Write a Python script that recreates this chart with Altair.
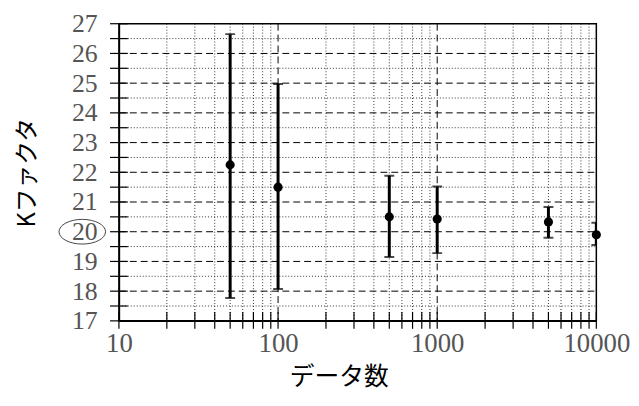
import altair as alt
import pandas as pd

# ---- data ----
n_data = [50, 100, 500, 1000, 5000, 10000]
k_mean = [22.25, 21.5, 20.5, 20.43, 20.33, 19.9]
k_upper = [26.65, 24.97, 21.88, 21.52, 20.83, 20.3]
k_lower = [17.77, 18.07, 19.15, 19.28, 19.8, 19.55]

y_major = list(range(17, 28))
y_minor = [v + 0.5 for v in range(17, 27)]
x_major_grid = [100, 1000]
x_minor_grid = [m * d for d in (10, 100, 1000) for m in range(2, 10)]
x_ticks = [10, 100, 1000, 10000] + x_minor_grid
x_labels = [10, 100, 1000, 10000]

W, H = 482, 300

df = pd.DataFrame({"n": n_data, "k": k_mean, "hi": k_upper, "lo": k_lower})
xscale = alt.Scale(type="log", domain=[10, 10000], nice=False)
yscale = alt.Scale(domain=[17, 27], nice=False, zero=False)

xaxis = alt.Axis(values=x_labels, format="d", title="データ数", grid=False, ticks=False,
                 labelFont="Liberation Serif", labelFontSize=27, labelColor="#555555",
                 labelPadding=10, labelFlush=False, labelOverlap=False,
                 domainColor="black", domainWidth=1.5,
                 titleFont="Noto Sans CJK JP", titleFontSize=25, titleFontWeight="normal",
                 titleColor="black", titlePadding=8, titleX=222)
yaxis = alt.Axis(values=y_major, title="Kファクタ", grid=False, ticks=False,
                 labelFont="Liberation Serif", labelFontSize=26, labelColor="#555555",
                 labelPadding=22, labelOverlap=False, labelBound=False,
                 domainColor="black", domainWidth=1.5,
                 titleFont="Noto Sans CJK JP", titleFontSize=24, titleFontWeight="normal",
                 titleColor="black", titlePadding=32)

base = alt.Chart(df)

# grid lines
ymaj = alt.Chart(pd.DataFrame({"y": y_major[1:-1]})).mark_rule(
    color="black", strokeWidth=1, strokeDash=[7, 4]).encode(
    y=alt.Y("y:Q", scale=yscale, axis=yaxis), x=alt.value(0), x2=alt.value(W))
ymin = alt.Chart(pd.DataFrame({"y": y_minor})).mark_rule(
    color="#333333", strokeWidth=1, strokeDash=[1, 2]).encode(
    y=alt.Y("y:Q", scale=yscale, axis=yaxis), x=alt.value(0), x2=alt.value(W))
xmaj = alt.Chart(pd.DataFrame({"x": x_major_grid})).mark_rule(
    color="black", strokeWidth=1, strokeDash=[7, 4]).encode(
    x=alt.X("x:Q", scale=xscale, axis=xaxis), y=alt.value(0), y2=alt.value(H))
xmin = alt.Chart(pd.DataFrame({"x": x_minor_grid})).mark_rule(
    color="#333333", strokeWidth=1, strokeDash=[1, 2]).encode(
    x=alt.X("x:Q", scale=xscale, axis=xaxis), y=alt.value(0), y2=alt.value(H))

# crossing ticks
ytk = alt.Chart(pd.DataFrame({"y": y_major + y_minor})).mark_rule(
    color="black", strokeWidth=1.2).encode(
    y=alt.Y("y:Q", scale=yscale, axis=yaxis), x=alt.value(-9), x2=alt.value(9))
xtk = alt.Chart(pd.DataFrame({"x": x_ticks})).mark_rule(
    color="black", strokeWidth=1.2).encode(
    x=alt.X("x:Q", scale=xscale, axis=xaxis), y=alt.value(H - 9), y2=alt.value(H + 8))

# error bars
bars = base.mark_rule(color="black", strokeWidth=3, clip=True).encode(
    x=alt.X("n:Q", scale=xscale, axis=xaxis), y=alt.Y("lo:Q", scale=yscale, axis=yaxis), y2="hi:Q")
cap_hi = base.mark_tick(color="black", thickness=2, size=10, orient="horizontal", clip=True).encode(
    x=alt.X("n:Q", scale=xscale, axis=xaxis), y=alt.Y("hi:Q", scale=yscale, axis=yaxis))
cap_lo = base.mark_tick(color="black", thickness=2, size=10, orient="horizontal", clip=True).encode(
    x=alt.X("n:Q", scale=xscale, axis=xaxis), y=alt.Y("lo:Q", scale=yscale, axis=yaxis))
pts = base.mark_circle(color="black", size=85, opacity=1).encode(
    x=alt.X("n:Q", scale=xscale, axis=xaxis), y=alt.Y("k:Q", scale=yscale, axis=yaxis))

# ellipse annotation around the "20" label
ell = alt.Chart(pd.DataFrame({"y": [20]})).mark_point(
    shape="M-1,0A1,0.53,0,1,0,1,0A1,0.53,0,1,0,-1,0Z", filled=False, fill=None,
    stroke="#444444", strokeWidth=1, size=2209, opacity=1).encode(
    y=alt.Y("y:Q", scale=yscale, axis=yaxis), x=alt.value(-37))

chart = alt.layer(ymin, xmin, ymaj, xmaj, ytk, xtk, bars, cap_hi, cap_lo, pts, ell).properties(
    width=W, height=H,
    autosize=alt.AutoSizeParams(type="none"),
    padding={"left": 112, "top": 14, "right": 35, "bottom": 76},
    background="white",
).configure_view(stroke="black", strokeWidth=1.5).configure_axis(labelOverlap=False)

chart.save("out.html", embed_options={"renderer": "svg", "actions": False})
